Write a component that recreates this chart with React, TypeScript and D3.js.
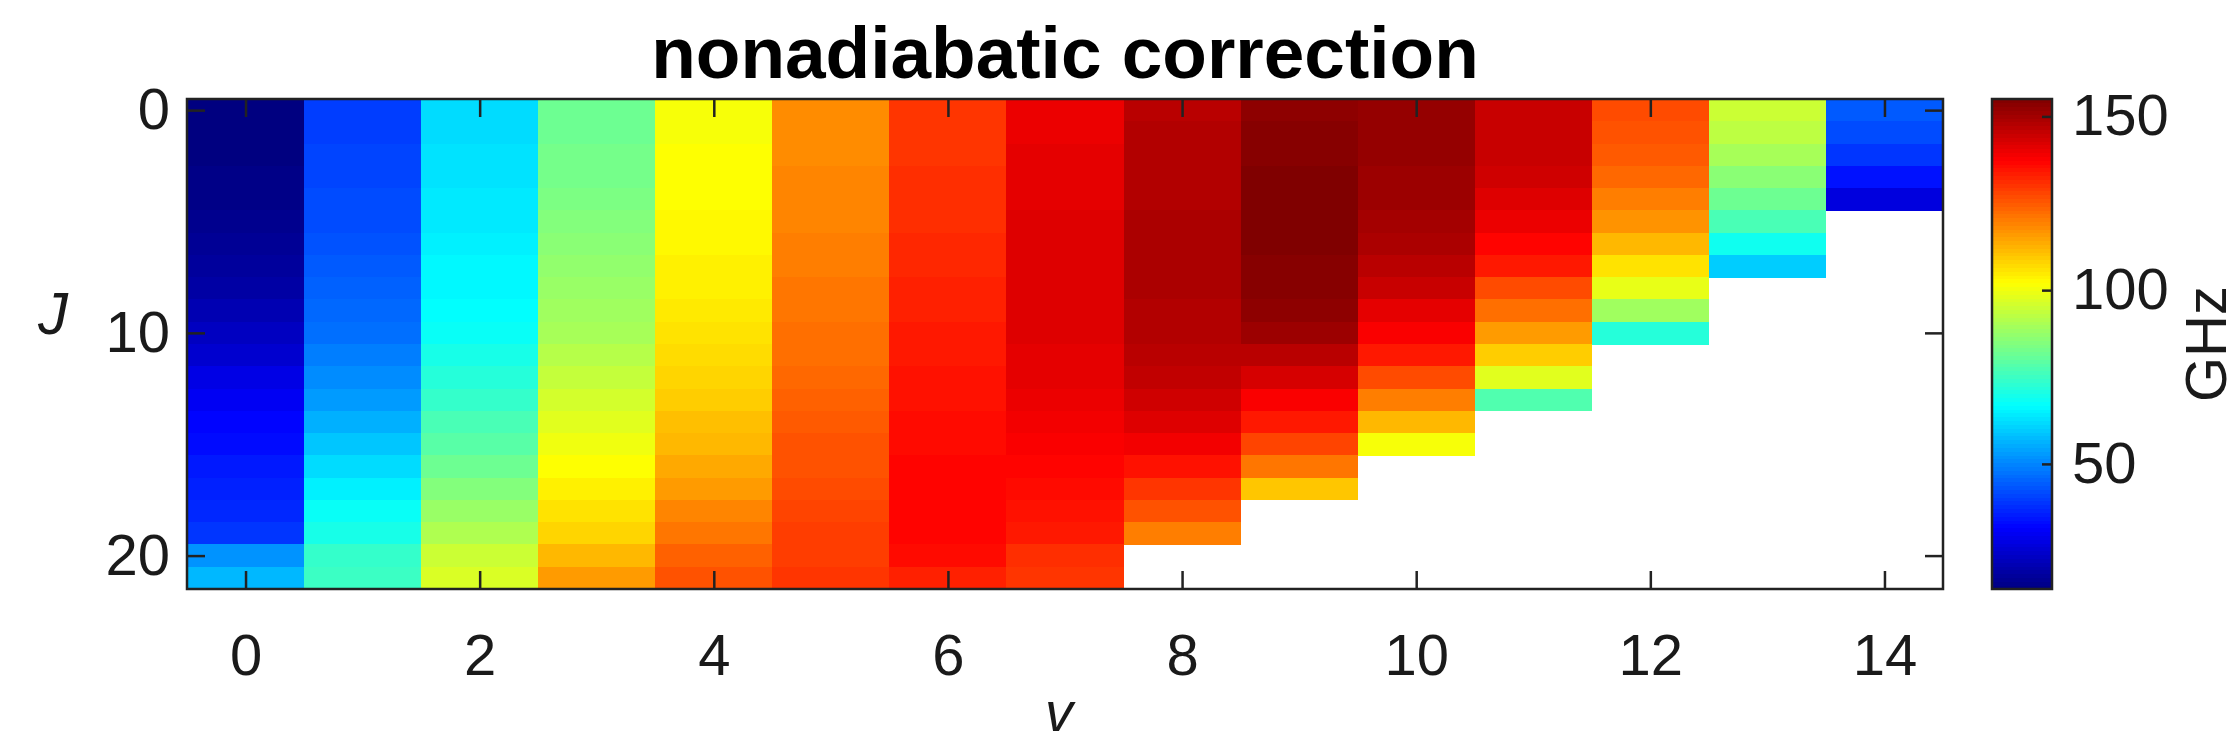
import React, { useRef, useEffect } from "react";
import * as d3 from "d3";

// nonadiabatic correction in GHz, one array per vibrational level v, index = J
const v0 = [14, 14, 14, 15, 15, 16, 17, 18, 19, 21, 23, 25, 28, 30, 32, 33, 35, 36, 37, 39, 52, 57];
const v1 = [40, 40, 41, 41, 42, 42, 43, 44, 45, 46, 47, 49, 51, 53, 56, 59, 62, 65, 68, 70, 74, 75];
const v2 = [62, 62, 63, 63, 64, 64, 65, 66, 66, 67, 68, 70, 72, 74, 77, 79, 82, 85, 88, 91, 95, 97];
const v3 = [82, 82, 83, 83, 84, 85, 86, 87, 88, 89, 90, 92, 94, 96, 98, 100, 102, 104, 106, 108, 112, 116];
const v4 = [101, 101, 102, 102, 102, 103, 103, 104, 104, 105, 106, 107, 108, 109, 111, 112, 114, 116, 119, 121, 124, 126];
const v5 = [118, 118, 118, 119, 119, 119, 120, 120, 121, 121, 122, 122, 123, 124, 125, 126, 126, 127, 128, 129, 129, 130];
const v6 = [130, 130, 130, 131, 131, 131, 132, 132, 133, 133, 134, 134, 135, 135, 136, 136, 137, 137, 137, 137, 136, 133];
const v7 = [140, 140, 141, 141, 141, 142, 142, 142, 142, 142, 142, 141, 141, 140, 139, 138, 137, 136, 135, 134, 131, 130];
const v8 = [147, 148, 148, 148, 148, 149, 149, 149, 149, 148, 148, 147, 146, 144, 142, 139, 135, 130, 126, 120];
const v9 = [153, 154, 154, 155, 155, 155, 155, 154, 154, 153, 151, 147, 143, 138, 134, 128, 121, 110];
const v10 = [152, 152, 152, 151, 151, 150, 149, 147, 145, 141, 138, 134, 127, 120, 112, 101];
const v11 = [145, 145, 145, 144, 142, 140, 137, 134, 127, 122, 116, 109, 98, 78];
const v12 = [127, 126, 125, 123, 120, 117, 112, 106, 99, 89, 72];
const v13 = [95, 93, 90, 86, 82, 77, 69, 60];
const v14 = [44, 42, 39, 34, 27];

const columns = [v0, v1, v2, v3, v4, v5, v6, v7, v8, v9, v10, v11, v12, v13, v14];

const vTicks = [0, 2, 4, 6, 8, 10, 12, 14];
const jTicks = [0, 10, 20];
const ghzTicks = [50, 100, 150];

const FONT = '"Liberation Sans", Arial, Helvetica, sans-serif';

// matlab style jet colormap
const jet = (t) => {
  const c = (v) => Math.round(255 * Math.min(1, Math.max(0, v)));
  const r = c(1.5 - Math.abs(4 * t - 3));
  const g = c(1.5 - Math.abs(4 * t - 2));
  const b = c(1.5 - Math.abs(4 * t - 1));
  return `rgb(${r},${g},${b})`;
};

const App = () => {
  const svgRef = useRef(null);
  const width = 2239;
  const height = 748;
  const margin = { top: 99, right: 296, bottom: 159, left: 187 };

  useEffect(() => {
    const svg = d3.select(svgRef.current);
    svg.selectAll("*").remove();

    const x = d3
      .scaleLinear()
      .domain([-0.5, 14.5])
      .range([margin.left, width - margin.right]);
    const y = d3
      .scaleLinear()
      .domain([-0.5, 21.5])
      .range([margin.top, height - margin.bottom]);

    const allValues = columns.flat();
    const [cmin, cmax] = d3.extent(allValues);
    const color = d3.scaleSequential(jet).domain([cmin, cmax]);

    svg.append("rect").attr("width", width).attr("height", height).attr("fill", "white");

    // heatmap cells
    const cells = [];
    columns.forEach((col, v) => {
      col.forEach((val, j) => cells.push({ v, j, val }));
    });

    svg
      .append("g")
      .attr("shape-rendering", "crispEdges")
      .selectAll("rect")
      .data(cells)
      .join("rect")
      .attr("x", (d) => x(d.v - 0.5))
      .attr("y", (d) => y(d.j - 0.5))
      .attr("width", (d) => x(d.v + 0.5) - x(d.v - 0.5) + 0.5)
      .attr("height", (d) => y(d.j + 0.5) - y(d.j - 0.5) + 0.5)
      .attr("fill", (d) => color(d.val));

    const styleAxis = (g) => {
      g.select(".domain").remove();
      g.selectAll("line").attr("stroke", "#222").attr("stroke-width", 2.5);
      g.selectAll("text")
        .attr("fill", "#1a1a1a")
        .style("font-family", FONT)
        .style("font-size", "58px");
    };

    const x0 = margin.left;
    const x1 = width - margin.right;
    const y0 = margin.top;
    const y1 = height - margin.bottom;

    // axes with inward ticks on all four sides
    svg
      .append("g")
      .attr("transform", `translate(0,${y1})`)
      .call(d3.axisBottom(x).tickValues(vTicks).tickSize(-18).tickSizeOuter(0).tickPadding(45))
      .call(styleAxis);
    svg
      .append("g")
      .attr("transform", `translate(0,${y0})`)
      .call(d3.axisTop(x).tickValues(vTicks).tickSize(-18).tickSizeOuter(0).tickFormat(() => ""))
      .call(styleAxis);
    svg
      .append("g")
      .attr("transform", `translate(${x0},0)`)
      .call(d3.axisLeft(y).tickValues(jTicks).tickSize(-18).tickSizeOuter(0).tickPadding(17))
      .call(styleAxis);
    svg
      .append("g")
      .attr("transform", `translate(${x1},0)`)
      .call(d3.axisRight(y).tickValues(jTicks).tickSize(-18).tickSizeOuter(0).tickFormat(() => ""))
      .call(styleAxis);

    svg
      .append("rect")
      .attr("x", x0)
      .attr("y", y0)
      .attr("width", x1 - x0)
      .attr("height", y1 - y0)
      .attr("fill", "none")
      .attr("stroke", "#222")
      .attr("stroke-width", 2.5);

    // title and axis labels
    svg
      .append("text")
      .attr("x", (x0 + x1) / 2)
      .attr("y", 78)
      .attr("text-anchor", "middle")
      .style("font-family", FONT)
      .style("font-size", "73px")
      .style("font-weight", "bold")
      .text("nonadiabatic correction");

    svg
      .append("text")
      .attr("x", (x0 + x1) / 2 - 6)
      .attr("y", 731)
      .attr("text-anchor", "middle")
      .style("font-family", FONT)
      .style("font-size", "56px")
      .style("font-style", "italic")
      .attr("fill", "#1a1a1a")
      .text("v");

    svg
      .append("text")
      .attr("x", 68)
      .attr("y", 334)
      .attr("text-anchor", "end")
      .style("font-family", FONT)
      .style("font-size", "60px")
      .style("font-style", "italic")
      .attr("fill", "#1a1a1a")
      .text("J");

    // colorbar
    const cbX = 1992;
    const cbW = 60;
    const cb = d3.scaleLinear().domain([cmin, cmax]).range([y1, y0]);
    const steps = d3.range(128);
    const stepH = (y1 - y0) / steps.length;

    svg
      .append("g")
      .attr("shape-rendering", "crispEdges")
      .selectAll("rect")
      .data(steps)
      .join("rect")
      .attr("x", cbX)
      .attr("y", (k) => y1 - (k + 1) * stepH)
      .attr("width", cbW)
      .attr("height", stepH + 0.5)
      .attr("fill", (k) => jet((k + 0.5) / steps.length));

    svg
      .append("g")
      .attr("transform", `translate(${cbX + cbW},0)`)
      .call(d3.axisRight(cb).tickValues(ghzTicks).tickSize(-10).tickSizeOuter(0).tickPadding(20))
      .call(styleAxis);

    svg
      .append("rect")
      .attr("x", cbX)
      .attr("y", y0)
      .attr("width", cbW)
      .attr("height", y1 - y0)
      .attr("fill", "none")
      .attr("stroke", "#222")
      .attr("stroke-width", 2.5);

    svg
      .append("text")
      .attr("transform", `translate(2226,${(y0 + y1) / 2}) rotate(-90)`)
      .attr("text-anchor", "middle")
      .style("font-family", FONT)
      .style("font-size", "58px")
      .attr("fill", "#1a1a1a")
      .text("GHz");
  }, []);

  return (
    <svg
      ref={svgRef}
      width={width}
      height={height}
      style={{ position: "absolute", left: 0, top: 0, display: "block" }}
    ></svg>
  );
};

export default App;
